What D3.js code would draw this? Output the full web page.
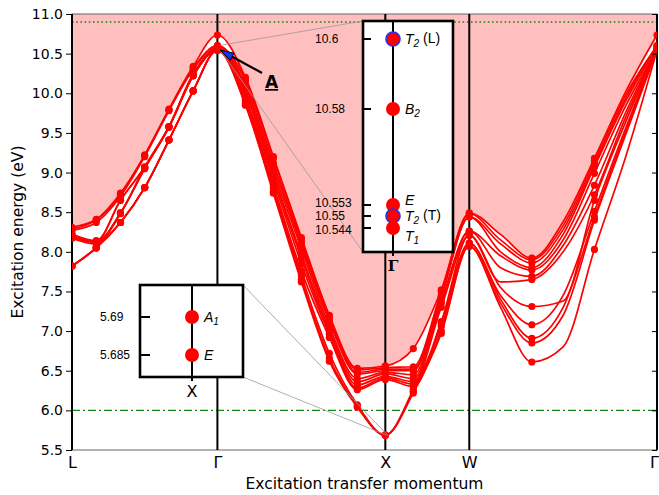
<!DOCTYPE html>
<html>
<head>
<meta charset="utf-8">
<script src="https://cdn.jsdelivr.net/npm/d3@7"></script>
<style>
    body { margin: 0; background: #fff; }
    svg { display: block; font-family: "DejaVu Sans", sans-serif; }
    .inset text { font-family: "Liberation Sans", Arial, sans-serif; font-size: 12px; }
</style>
</head>
<body>
<svg id="chart" width="659" height="495"></svg>
<script>
// high symmetry path, cumulative |k| along L-Γ-X-W-Γ
const kTickLabels = ['L', 'Γ', 'X', 'W', 'Γ'];
const kTickPos = [0, 0.866, 1.866, 2.366, 3.484];

// k points the bands are read at; 1 = computed point (drawn with a dot)
const kGrid = [0, 0.1443, 0.2887, 0.433, 0.5774, 0.7217, 0.866,
    1.0327, 1.1993, 1.366, 1.5327, 1.6993, 1.866,
    2.0327, 2.1993, 2.366,
    2.5523, 2.7387, 2.925, 3.1113, 3.2977, 3.484];
const kMarked = [1, 1, 1, 1, 1, 1, 1, 1, 1, 1, 1, 1, 1, 1, 1, 1, 0, 1, 0, 1, 0, 1];

// exciton bands (eV)
const band0 = [8.31, 8.41, 8.74, 9.22, 9.80, 10.34, 10.735, 10.20, 9.20, 8.18, 7.20, 6.53, 6.56, 6.78, 7.52, 8.49, 8.22, 7.92, 8.38, 9.18, 10.02, 10.735];
const band1 = [8.29, 8.40, 8.72, 9.22, 9.79, 10.32, 10.60, 10.18, 9.18, 8.16, 7.18, 6.51, 6.54, 6.55, 7.50, 8.48, 8.15, 7.90, 8.33, 9.14, 9.98, 10.60];
const band2 = [8.27, 8.37, 8.70, 9.20, 9.78, 10.30, 10.60, 10.15, 9.12, 8.12, 7.14, 6.48, 6.52, 6.52, 7.45, 8.44, 8.10, 7.86, 8.28, 9.10, 9.94, 10.60];
const band3 = [8.22, 8.14, 8.65, 9.07, 9.58, 10.24, 10.58, 10.10, 9.07, 8.09, 7.12, 6.46, 6.50, 6.50, 7.43, 8.44, 8.00, 7.80, 8.22, 9.07, 9.90, 10.58];
const band4 = [8.22, 8.13, 8.65, 9.07, 9.58, 10.24, 10.553, 10.08, 9.02, 8.04, 7.06, 6.40, 6.48, 6.45, 7.38, 8.26, 7.95, 7.77, 8.15, 8.99, 9.84, 10.553];
const band5 = [8.19, 8.13, 8.49, 9.07, 9.58, 10.22, 10.553, 10.04, 8.97, 7.97, 7.02, 6.36, 6.46, 6.40, 7.35, 8.26, 7.80, 7.69, 8.08, 8.84, 9.76, 10.553];
const band6 = [8.19, 8.12, 8.49, 9.05, 9.57, 10.22, 10.55, 10.00, 8.95, 7.92, 6.98, 6.32, 6.43, 6.36, 7.30, 8.21, 7.62, 7.65, 8.00, 8.72, 9.70, 10.55];
const band7 = [8.17, 8.10, 8.48, 9.05, 9.57, 10.22, 10.55, 9.95, 8.90, 7.85, 6.96, 6.28, 6.41, 6.33, 7.12, 8.21, 7.55, 7.31, 7.38, 8.65, 9.64, 10.55];
const band8 = [7.82, 8.05, 8.37, 8.81, 9.41, 10.03, 10.55, 9.92, 8.84, 7.76, 6.92, 6.26, 6.39, 6.30, 7.10, 8.11, 7.45, 7.08, 7.45, 8.51, 9.56, 10.55];
const band9 = [7.82, 8.05, 8.37, 8.81, 9.41, 10.03, 10.544, 9.90, 8.80, 7.70, 6.72, 6.07, 5.69, 6.26, 7.06, 8.11, 7.40, 6.91, 7.30, 8.44, 9.52, 10.544];
const band10 = [7.82, 8.05, 8.37, 8.81, 9.41, 10.03, 10.544, 9.87, 8.76, 7.65, 6.66, 6.05, 5.685, 6.24, 7.00, 8.07, 7.35, 6.85, 7.20, 8.40, 9.48, 10.544];
const band11 = [7.82, 8.05, 8.37, 8.81, 9.41, 10.03, 10.544, 9.85, 8.74, 7.62, 6.62, 6.04, 5.685, 6.22, 6.97, 8.07, 7.30, 6.61, 6.80, 8.03, 9.20, 10.544];
const bands = [band0, band1, band2, band3, band4, band5, band6, band7, band8, band9, band10, band11];

const yTicks = [5.5, 6.0, 6.5, 7.0, 7.5, 8.0, 8.5, 9.0, 9.5, 10.0, 10.5, 11.0];
const dottedLevel = 10.9;
const dashDotLevel = 6.0;

// zoom at Γ
const gammaEnergies = [10.6, 10.58, 10.553, 10.55, 10.544];
const gammaTickLabels = ['10.6', '10.58', '10.553', '10.55', '10.544'];
const gammaSym = ['T', 'B', 'E', 'T', 'T'];
const gammaSub = ['2', '2', '', '2', '1'];
const gammaTag = [' (L)', '', '', ' (T)', ''];

// zoom at X
const xEnergies = [5.69, 5.685];
const xTickLabels = ['5.69', '5.685'];
const xSym = ['A', 'E'];
const xSub = ['1', ''];

const svg = d3.select('#chart');
const plot = { left: 72, right: 657, top: 14, bottom: 450 };
const red = '#ff0000';
const green = '#118811';

const x = d3.scaleLinear().domain([0, kTickPos[kTickPos.length - 1]]).range([plot.left, plot.right]);
const y = d3.scaleLinear().domain([5.5, 11.0]).range([plot.bottom, plot.top]);

svg.append('defs').append('clipPath').attr('id', 'plot-clip')
    .append('rect')
    .attr('x', plot.left).attr('y', plot.top)
    .attr('width', plot.right - plot.left).attr('height', plot.bottom - plot.top);

// continuum: everything above the highest band
const topEdge = kGrid.map((k, i) => d3.max(bands, b => b[i]));
svg.append('path')
    .datum(topEdge)
    .attr('fill', '#ffbfbf')
    .attr('clip-path', 'url(#plot-clip)')
    .attr('d', d3.area()
        .x((d, i) => x(kGrid[i]))
        .y0(y(11.0))
        .y1(d => y(d))
        .curve(d3.curveMonotoneX));

// reference levels
svg.append('line')
    .attr('x1', plot.left).attr('x2', plot.right)
    .attr('y1', y(dottedLevel)).attr('y2', y(dottedLevel))
    .attr('stroke', green).attr('stroke-width', 1.6)
    .attr('stroke-dasharray', '1.6,2.6');
svg.append('line')
    .attr('x1', plot.left).attr('x2', plot.right)
    .attr('y1', y(dashDotLevel)).attr('y2', y(dashDotLevel))
    .attr('stroke', green).attr('stroke-width', 1.4)
    .attr('stroke-dasharray', '8,3,2,3');

// frame
svg.append('rect')
    .attr('x', plot.left).attr('y', plot.top)
    .attr('width', plot.right - plot.left).attr('height', plot.bottom - plot.top)
    .attr('fill', 'none').attr('stroke', '#666').attr('stroke-width', 1);

// high symmetry verticals
svg.append('g').selectAll('line')
    .data(kTickPos)
    .join('line')
    .attr('x1', d => x(d)).attr('x2', d => x(d))
    .attr('y1', plot.top).attr('y2', plot.bottom)
    .attr('stroke', '#000').attr('stroke-width', 2);

// bands
const bandLine = d3.line()
    .x((d, i) => x(kGrid[i]))
    .y(d => y(d))
    .curve(d3.curveMonotoneX);

const bandGroup = svg.append('g').attr('clip-path', 'url(#plot-clip)');
bandGroup.selectAll('path')
    .data(bands)
    .join('path')
    .attr('fill', 'none')
    .attr('stroke', red)
    .attr('stroke-width', 1.7)
    .attr('d', bandLine);

const dots = [];
bands.forEach(b => b.forEach((v, i) => { if (kMarked[i]) dots.push([kGrid[i], v]); }));
bandGroup.selectAll('circle')
    .data(dots)
    .join('circle')
    .attr('cx', d => x(d[0]))
    .attr('cy', d => y(d[1]))
    .attr('r', 3.6)
    .attr('fill', red);

// axes
const leftAxis = svg.append('g')
    .attr('transform', `translate(${plot.left},0)`)
    .call(d3.axisLeft(y).tickValues(yTicks).tickFormat(d3.format('.1f')).tickSize(6).tickPadding(3));
const rightAxis = svg.append('g')
    .attr('transform', `translate(${plot.right},0)`)
    .call(d3.axisLeft(y).tickValues(yTicks).tickFormat('').tickSize(5));
const bottomAxis = svg.append('g')
    .attr('transform', `translate(0,${plot.bottom})`)
    .call(d3.axisBottom(x).tickValues(kTickPos).tickFormat((d, i) => kTickLabels[i]).tickSize(0).tickPadding(7));
[leftAxis, rightAxis, bottomAxis].forEach(g => {
    g.select('.domain').remove();
    g.selectAll('text').attr('fill', '#000').style('font-family', '"DejaVu Sans", sans-serif');
    g.selectAll('line').attr('stroke', '#000');
});
leftAxis.selectAll('text').style('font-size', '14px');
bottomAxis.selectAll('text').style('font-size', '16px');
// last label sits on the window edge
bottomAxis.selectAll('text').filter((d, i) => i === kTickLabels.length - 1).attr('dx', -3);

svg.append('text')
    .attr('transform', `translate(23,${(plot.top + plot.bottom) / 2}) rotate(-90)`)
    .attr('text-anchor', 'middle')
    .style('font-size', '15.5px')
    .text('Excitation energy (eV)');
svg.append('text')
    .attr('x', (plot.left + plot.right) / 2).attr('y', 489)
    .attr('text-anchor', 'middle')
    .style('font-size', '15.5px')
    .text('Excitation transfer momentum');

// zoom connectors
const connectors = [
    [[363, 21], [x(kTickPos[1]) + 3, y(10.605)]],
    [[363, 252], [x(kTickPos[1]) + 3, y(10.54)]],
    [[243, 285], [x(kTickPos[2]) + 2, y(5.692)]],
    [[243, 377], [x(kTickPos[2]) + 2, y(5.683)]]
];
svg.append('g').selectAll('line')
    .data(connectors)
    .join('line')
    .attr('x1', d => d[0][0]).attr('y1', d => d[0][1])
    .attr('x2', d => d[1][0]).attr('y2', d => d[1][1])
    .attr('stroke', '#999').attr('stroke-width', 0.8);

function drawInset(box, scale, energies, tickLabels, sym, sub, tag, nudge, tickNudge, title) {
    const g = svg.append('g').attr('class', 'inset');
    g.append('rect')
        .attr('x', box.x0).attr('y', box.y0)
        .attr('width', box.x1 - box.x0).attr('height', box.y1 - box.y0)
        .attr('fill', '#fff').attr('stroke', '#000').attr('stroke-width', 2.6);
    g.append('line')
        .attr('x1', box.xc).attr('x2', box.xc)
        .attr('y1', box.y0).attr('y2', box.y1 + 4)
        .attr('stroke', '#000').attr('stroke-width', 2);
    g.selectAll('line.tick')
        .data(energies)
        .join('line')
        .attr('class', 'tick')
        .attr('x1', box.x0).attr('x2', box.x0 + box.tick)
        .attr('y1', d => scale(d)).attr('y2', d => scale(d))
        .attr('stroke', '#000').attr('stroke-width', 2);
    g.selectAll('text.tlabel')
        .data(energies)
        .join('text')
        .attr('class', 'tlabel')
        .attr('x', box.labelX)
        .attr('y', (d, i) => scale(d) + tickNudge[i])
        .attr('dy', '0.35em')
        .text((d, i) => tickLabels[i]);
    g.selectAll('circle')
        .data(energies)
        .join('circle')
        .attr('cx', box.xc)
        .attr('cy', d => scale(d))
        .attr('r', 7)
        .attr('fill', red)
        .attr('stroke', (d, i) => sym[i] === 'T' && sub[i] === '2' ? '#2233ee' : 'none')
        .attr('stroke-width', 1.6);
    const names = g.selectAll('text.state')
        .data(energies)
        .join('text')
        .attr('class', 'state')
        .attr('x', box.xc + 12)
        .attr('y', (d, i) => scale(d) + nudge[i])
        .attr('dy', '0.35em')
        .style('font-size', '14px');
    names.append('tspan').style('font-style', 'italic').text((d, i) => sym[i]);
    names.append('tspan').style('font-style', 'italic').style('font-size', '10px')
        .attr('dy', '0.35em').text((d, i) => sub[i]);
    names.append('tspan').attr('dy', (d, i) => sub[i] ? '-0.35em' : null)
        .text((d, i) => tag[i]);
    g.append('text')
        .attr('x', box.xc).attr('y', box.y1 + box.titleDy)
        .attr('text-anchor', 'middle')
        .style('font-family', title.font)
        .style('font-weight', title.weight)
        .style('font-size', title.size)
        .text(title.text);
}

const gammaBox = { x0: 363, x1: 453, y0: 21, y1: 252, xc: 393, tick: 8, labelX: 315, titleDy: 19 };
const gammaScale = d3.scaleLinear()
    .domain([10.544, 10.55, 10.553, 10.58, 10.6])
    .range([228, 216, 205, 109, 39]);
drawInset(gammaBox, gammaScale, gammaEnergies, gammaTickLabels, gammaSym, gammaSub, gammaTag,
    [0, 0, -5, 0, 8], [0, 0, -2, 0, 2],
    { text: 'Γ', font: '"DejaVu Serif", serif', weight: 'bold', size: '15px' });

const xBox = { x0: 140, x1: 243, y0: 285, y1: 377, xc: 192, tick: 10, labelX: 100, titleDy: 20 };
const xScale = d3.scaleLinear().domain([5.685, 5.69]).range([355, 317]);
drawInset(xBox, xScale, xEnergies, xTickLabels, xSym, xSub, ['', ''],
    [0, 0], [0, 0],
    { text: 'X', font: '"DejaVu Sans", sans-serif', weight: 'normal', size: '16px' });

// annotation A
const tail = [262, 73], tip = [220, 50];
const len = Math.hypot(tip[0] - tail[0], tip[1] - tail[1]);
const ux = (tip[0] - tail[0]) / len, uy = (tip[1] - tail[1]) / len;
const base = [tip[0] - 14 * ux, tip[1] - 14 * uy];
svg.append('line')
    .attr('x1', tail[0]).attr('y1', tail[1])
    .attr('x2', base[0]).attr('y2', base[1])
    .attr('stroke', '#000').attr('stroke-width', 2.2);
svg.append('path')
    .attr('d', `M${tip[0]},${tip[1]} L${base[0] - 4 * uy},${base[1] + 4 * ux} L${base[0] + 4 * uy},${base[1] - 4 * ux}Z`)
    .attr('fill', '#1133ff').attr('stroke', '#000').attr('stroke-width', 1);
svg.append('text')
    .attr('x', 265).attr('y', 88)
    .style('font-size', '17px').style('font-weight', 'bold')
    .style('text-decoration', 'underline')
    .text('A');
</script>
</body>
</html>
